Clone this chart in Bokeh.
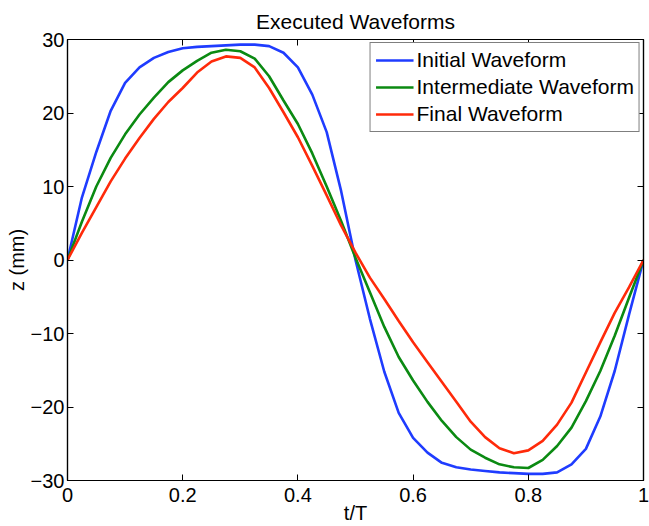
from bokeh.plotting import figure
from bokeh.models import LinearAxis, FixedTicker, Legend, LegendItem, Range1d
from bokeh.embed import file_html
from bokeh.resources import INLINE

# ---- data ----
t = [0.0, 0.025, 0.05, 0.075, 0.1, 0.125, 0.15, 0.175, 0.2, 0.225,
     0.25, 0.275, 0.3, 0.325, 0.35, 0.375, 0.4, 0.425, 0.45, 0.475,
     0.5, 0.525, 0.55, 0.575, 0.6, 0.625, 0.65, 0.675, 0.7, 0.725,
     0.75, 0.775, 0.8, 0.825, 0.85, 0.875, 0.9, 0.925, 0.95, 0.975, 1.0]

initial = [0.0, 8.5, 14.7, 20.3, 24.1, 26.2, 27.5, 28.3, 28.8, 29.0,
           29.1, 29.2, 29.3, 29.3, 29.1, 28.2, 26.2, 22.5, 17.4, 9.4,
           0.0, -8.0, -15.2, -20.8, -24.2, -26.2, -27.6, -28.2, -28.5, -28.7,
           -28.9, -29.0, -29.1, -29.1, -28.9, -27.8, -25.7, -21.3, -15.1, -7.4, 0.0]

intermediate = [0.0, 5.2, 10.0, 13.9, 17.1, 19.8, 22.1, 24.2, 25.8, 27.1,
                28.2, 28.6, 28.4, 27.4, 25.0, 21.7, 18.5, 14.5, 10.0, 5.3,
                0.3, -4.4, -9.1, -13.2, -16.4, -19.3, -21.9, -24.1, -25.8, -26.9,
                -27.8, -28.2, -28.3, -27.2, -25.3, -22.8, -19.2, -15.1, -10.3, -5.1, 0.0]

final = [0.0, 3.7, 7.2, 10.7, 13.8, 16.6, 19.2, 21.5, 23.4, 25.5,
         27.0, 27.7, 27.5, 26.2, 23.4, 20.1, 16.7, 12.8, 8.8, 4.7,
         1.0, -2.4, -5.3, -8.3, -11.2, -13.9, -16.6, -19.3, -22.0, -24.1,
         -25.6, -26.3, -25.9, -24.6, -22.4, -19.4, -15.3, -11.2, -7.2, -3.7, 0.0]

series_names = ["Initial Waveform", "Intermediate Waveform", "Final Waveform"]
series_colors = ["#1f3cff", "#0b8a12", "#ff2a0a"]

x_ticks = [0, 0.2, 0.4, 0.6, 0.8, 1]
x_tick_labels = ["0", "0.2", "0.4", "0.6", "0.8", "1"]
y_ticks = [-30, -20, -10, 0, 10, 20, 30]
y_tick_labels = ["\u221230", "\u221220", "\u221210", "0", "10", "20", "30"]

FONT = "Liberation Sans"
FS_TICK = "20px"
FS_TEXT = "21px"

p = figure(width=649, height=526, output_backend="svg", toolbar_location=None,
           x_range=Range1d(0, 1), y_range=Range1d(-30, 30),
           min_border_left=67, min_border_right=6, min_border_top=39,
           min_border_bottom=46, x_axis_label="t/T", y_axis_label="z (mm)")

p.title.text = "Executed Waveforms"
p.title.align = "center"
p.title.text_font = FONT
p.title.text_font_size = FS_TEXT
p.title.text_font_style = "normal"
p.title.text_color = "black"
p.title.standoff = 14
p.title.offset = 0

p.grid.visible = False
p.outline_line_color = "black"
p.outline_line_width = 1.2
p.background_fill_color = "white"
p.border_fill_color = "white"

def style_axis(ax, ticks, labels, show_labels=True):
    ax.ticker = FixedTicker(ticks=ticks)
    ax.major_label_overrides = {tk: lb for tk, lb in zip(ticks, labels)}
    ax.major_tick_in = 6
    ax.major_tick_out = 0
    ax.minor_tick_in = 0
    ax.minor_tick_out = 0
    ax.major_tick_line_color = "black"
    ax.axis_line_color = "black"
    ax.axis_line_width = 1.2
    ax.major_label_text_font = FONT
    ax.major_label_text_color = "black"
    if show_labels:
        ax.major_label_text_font_size = FS_TICK
        ax.major_label_standoff = 3
    else:
        ax.major_label_text_font_size = "0px"
        ax.major_label_standoff = 0
    ax.axis_label_text_font = FONT
    ax.axis_label_text_font_size = FS_TICK
    ax.axis_label_text_font_style = "normal"
    ax.axis_label_text_color = "black"
    ax.axis_label_standoff = 0

style_axis(p.xaxis[0], x_ticks, x_tick_labels)
style_axis(p.yaxis[0], y_ticks, y_tick_labels)
p.xaxis[0].major_label_standoff = 7
p.xaxis[0].axis_label_standoff = -3
p.yaxis[0].axis_label_standoff = 0

top_ax = LinearAxis()
right_ax = LinearAxis()
style_axis(top_ax, x_ticks, [""] * len(x_ticks), show_labels=False)
style_axis(right_ax, y_ticks, [""] * len(y_ticks), show_labels=False)
p.add_layout(top_ax, "above")
p.add_layout(right_ax, "right")

items = []
for ys, name, col in zip([initial, intermediate, final], series_names, series_colors):
    r = p.line(t, ys, line_color=col, line_width=2.6)
    items.append(LegendItem(label=name, renderers=[r]))

legend = Legend(items=items, location="top_right")
legend.label_text_font = FONT
legend.label_text_font_size = FS_TEXT
legend.label_text_color = "black"
legend.glyph_width = 38
legend.glyph_height = 24
legend.label_standoff = 3
legend.label_height = 24
legend.spacing = 3
legend.padding = 5
legend.margin = 3
legend.border_line_color = "black"
legend.border_line_width = 1.2
legend.background_fill_alpha = 1.0
p.add_layout(legend, "center")

open("out.html", "w").write(file_html(p, INLINE))
